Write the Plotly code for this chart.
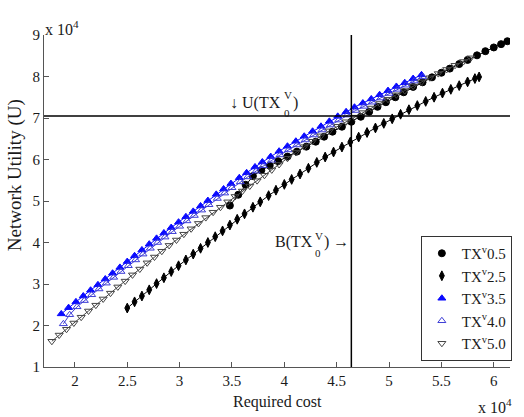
import plotly.graph_objects as go

# ---- data (both axes in units of 10^4) ----
cost_05 = [3.48, 3.56, 3.63, 3.70, 3.78, 3.86, 3.94, 4.03, 4.12, 4.21, 4.30, 4.38, 4.46, 4.55, 4.64,
           4.73, 4.81, 4.89, 4.97, 5.06, 5.14, 5.23, 5.32, 5.41, 5.50, 5.58, 5.67, 5.75, 5.84, 5.92,
           6.00, 6.07, 6.13]
util_05 = [4.89, 5.15, 5.39, 5.60, 5.74, 5.85, 5.96, 6.07, 6.19, 6.31, 6.43, 6.55, 6.67, 6.79, 6.91,
           7.03, 7.15, 7.27, 7.38, 7.50, 7.62, 7.75, 7.86, 7.98, 8.09, 8.19, 8.30, 8.40, 8.51, 8.61,
           8.70, 8.78, 8.85]

cost_25 = [2.50, 2.57, 2.64, 2.71, 2.78, 2.85, 2.92, 2.99, 3.06, 3.13, 3.20, 3.27, 3.34, 3.41, 3.48,
           3.55, 3.62, 3.70, 3.77, 3.85, 3.92, 4.00, 4.07, 4.15, 4.23, 4.31, 4.39, 4.47, 4.55, 4.63,
           4.71, 4.79, 4.87, 4.95, 5.03, 5.11, 5.19, 5.27, 5.35, 5.43, 5.51, 5.59, 5.67, 5.75, 5.82,
           5.86]
util_25 = [2.42, 2.57, 2.71, 2.86, 3.01, 3.15, 3.30, 3.44, 3.58, 3.72, 3.86, 4.00, 4.14, 4.28, 4.42,
           4.56, 4.69, 4.85, 4.98, 5.13, 5.26, 5.40, 5.52, 5.65, 5.79, 5.93, 6.06, 6.18, 6.30, 6.42,
           6.54, 6.65, 6.76, 6.87, 6.98, 7.09, 7.20, 7.30, 7.40, 7.50, 7.60, 7.69, 7.78, 7.87, 7.95,
           7.99]

cost_35 = [1.87, 1.94, 2.01, 2.08, 2.15, 2.22, 2.29, 2.36, 2.43, 2.50, 2.57, 2.64, 2.71, 2.78, 2.85,
           2.92, 2.99, 3.06, 3.13, 3.20, 3.27, 3.35, 3.42, 3.49, 3.57, 3.64, 3.72, 3.79, 3.87, 3.95,
           4.03, 4.11, 4.19, 4.27, 4.35, 4.43, 4.51, 4.59, 4.67, 4.75, 4.83, 4.91, 4.99, 5.07, 5.15,
           5.23, 5.31]
util_35 = [2.28, 2.43, 2.57, 2.71, 2.85, 2.98, 3.12, 3.26, 3.40, 3.54, 3.68, 3.82, 3.96, 4.10, 4.23,
           4.36, 4.49, 4.62, 4.75, 4.88, 5.01, 5.16, 5.29, 5.42, 5.56, 5.68, 5.82, 5.94, 6.07, 6.20,
           6.32, 6.44, 6.56, 6.68, 6.80, 6.92, 7.04, 7.15, 7.26, 7.36, 7.46, 7.56, 7.66, 7.76, 7.85,
           7.95, 8.04]

cost_40 = [1.89, 1.95, 2.02, 2.09, 2.16, 2.23, 2.30, 2.37, 2.44, 2.51, 2.58, 2.65, 2.72, 2.79, 2.86,
           2.93, 3.00, 3.07, 3.14, 3.21, 3.28, 3.36, 3.43, 3.50, 3.58, 3.65, 3.73, 3.80, 3.88, 3.96,
           4.04, 4.12, 4.20, 4.28, 4.36, 4.44, 4.52, 4.60, 4.68, 4.76, 4.84, 4.92, 5.00, 5.08, 5.16,
           5.24, 5.32]
util_40 = [2.04, 2.26, 2.45, 2.60, 2.74, 2.88, 3.02, 3.16, 3.30, 3.44, 3.58, 3.72, 3.86, 4.00, 4.13,
           4.26, 4.39, 4.52, 4.65, 4.78, 4.91, 5.06, 5.19, 5.32, 5.46, 5.58, 5.72, 5.85, 5.98, 6.11,
           6.23, 6.35, 6.47, 6.59, 6.71, 6.83, 6.95, 7.07, 7.18, 7.28, 7.38, 7.48, 7.59, 7.69, 7.79,
           7.89, 7.99]

cost_50 = [1.78, 1.85, 1.92, 1.99, 2.06, 2.13, 2.20, 2.27, 2.34, 2.41, 2.48, 2.55, 2.62, 2.69, 2.76,
           2.83, 2.90, 2.97, 3.04, 3.11, 3.18, 3.25, 3.32, 3.39, 3.46, 3.53, 3.60, 3.67, 3.74, 3.81,
           3.88, 3.95, 4.03, 4.11, 4.19, 4.27, 4.35, 4.43, 4.51, 4.59, 4.67, 4.75, 4.83, 4.91, 4.99,
           5.07, 5.15, 5.23, 5.31, 5.39, 5.47, 5.55, 5.63, 5.71, 5.78]
util_50 = [1.62, 1.77, 1.91, 2.06, 2.20, 2.35, 2.49, 2.64, 2.78, 2.93, 3.07, 3.22, 3.36, 3.51, 3.65,
           3.79, 3.93, 4.06, 4.20, 4.33, 4.46, 4.60, 4.73, 4.85, 4.98, 5.11, 5.24, 5.36, 5.49, 5.62,
           5.75, 5.88, 6.03, 6.17, 6.31, 6.44, 6.57, 6.69, 6.80, 6.91, 7.02, 7.13, 7.24, 7.35, 7.45,
           7.56, 7.66, 7.77, 7.87, 7.97, 8.07, 8.17, 8.27, 8.36, 8.45]

U_TX0 = 7.05   # utility level U(TX_0^V)
B_TX0 = 4.64   # budget B(TX_0^V)

series_names = ["TX<sup>v</sup>0.5", "TX<sup>v</sup>2.5", "TX<sup>v</sup>3.5",
                "TX<sup>v</sup>4.0", "TX<sup>v</sup>5.0"]
x_ticks = [2, 2.5, 3, 3.5, 4, 4.5, 5, 5.5, 6]
x_tick_labels = ["2", "2.5", "3", "3.5", "4", "4.5", "5", "5.5", "6"]
y_ticks = [1, 2, 3, 4, 5, 6, 7, 8, 9]
y_tick_labels = ["1", "2", "3", "4", "5", "6", "7", "8", "9"]

FONT = "Liberation Serif"
TXT = "#1a1a1a"
AX = "#555555"

styles = [
    dict(symbol="circle", size=7, color="#000000", line_color="#000000", lc="#000000"),
    dict(symbol="diamond-tall", size=7, color="#000000", line_color="#000000", lc="#000000"),
    dict(symbol="triangle-up", size=7, color="#0a0aff", line_color="#0a0aff", lc="#0a0aff"),
    dict(symbol="triangle-up-open", size=7, color="#3d3dd6", line_color="#3d3dd6", lc="#3d3dd6"),
    dict(symbol="triangle-down-open", size=7, color="#444444", line_color="#444444", lc="#444444"),
]
data = [(cost_05, util_05), (cost_25, util_25), (cost_35, util_35),
        (cost_40, util_40), (cost_50, util_50)]

fig = go.Figure()
for (xs, ys), st, name in zip(data, styles, series_names):
    fig.add_trace(go.Scatter(
        x=xs, y=ys, mode="lines+markers", showlegend=False, legendgroup=name,
        line=dict(color=st["lc"], width=1),
        marker=dict(symbol=st["symbol"], size=st["size"], color=st["color"],
                    line=dict(color=st["line_color"], width=1)),
    ))
for st, name in zip(styles, series_names):
    fig.add_trace(go.Scatter(
        x=[None], y=[None], mode="markers", name=name, legendgroup=name,
        marker=dict(symbol=st["symbol"], size=st["size"], color=st["color"],
                    line=dict(color=st["line_color"], width=1)),
    ))

# reference lines
fig.add_shape(type="line", xref="paper", yref="y", x0=0, x1=1, y0=U_TX0, y1=U_TX0,
              line=dict(color="#000000", width=1.5))
fig.add_shape(type="line", xref="x", yref="paper", x0=B_TX0, x1=B_TX0, y0=0, y1=1,
              line=dict(color="#000000", width=1.5))

ann_font = dict(family=FONT, size=16, color=TXT)
small_font = dict(family=FONT, size=11, color=TXT)
annotations = [
    # U(TX_0^V)
    dict(text="\u2193 U(TX", x=0.513, y=0.795, xanchor="right", yanchor="middle", font=ann_font),
    dict(text="V", x=0.5235, y=0.819, xanchor="center", yanchor="middle", font=small_font),
    dict(text="0", x=0.5224, y=0.765, xanchor="center", yanchor="middle", font=small_font),
    dict(text=")", x=0.530, y=0.795, xanchor="left", yanchor="middle", font=ann_font),
    # B(TX_0^V)
    dict(text="B(TX", x=0.581, y=0.377, xanchor="right", yanchor="middle", font=ann_font),
    dict(text="V", x=0.590, y=0.395, xanchor="center", yanchor="middle", font=small_font),
    dict(text="0", x=0.589, y=0.343, xanchor="center", yanchor="middle", font=small_font),
    dict(text=") \u2192", x=0.596, y=0.377, xanchor="left", yanchor="middle", font=ann_font),
    # exponent labels
    dict(text="x 10<sup>4</sup>", x=-0.002, y=1.02, xanchor="left", yanchor="middle",
         font=dict(family=FONT, size=16, color=TXT)),
    dict(text="x 10<sup>4</sup>", x=1.009, y=-0.118, xanchor="right", yanchor="middle",
         font=dict(family=FONT, size=16, color=TXT)),
    # axis titles
    dict(text="Required cost", x=0.5, y=-0.105, xanchor="center", yanchor="middle",
         font=dict(family=FONT, size=16, color=TXT)),
    dict(text="Network Utility (U)", x=-0.062, y=0.578, xanchor="center", yanchor="middle",
         textangle=-90, font=dict(family=FONT, size=19, color=TXT)),
]
for a in annotations:
    a.update(xref="paper", yref="paper", showarrow=False)

fig.update_layout(
    width=524, height=417,
    margin=dict(l=44, r=12, t=35, b=50),
    paper_bgcolor="white", plot_bgcolor="white",
    font=dict(family=FONT, size=15, color=TXT),
    annotations=annotations,
    legend=dict(x=1.004, xanchor="right", y=0.018, yanchor="bottom",
                bgcolor="white", bordercolor="#333333", borderwidth=1,
                font=dict(family=FONT, size=15, color=TXT),
                itemwidth=30, tracegroupgap=0),
    xaxis=dict(range=[1.705, 6.155], tickvals=x_ticks, ticktext=x_tick_labels,
               ticks="inside", ticklen=5, tickcolor=AX, showline=True, linecolor=AX,
               linewidth=1, showgrid=False, zeroline=False),
    yaxis=dict(range=[1, 9], tickvals=y_ticks, ticktext=y_tick_labels,
               ticks="inside", ticklen=5, tickcolor=AX, showline=True, linecolor=AX,
               linewidth=1, showgrid=False, zeroline=False),
)

fig.write_html("out.html")
